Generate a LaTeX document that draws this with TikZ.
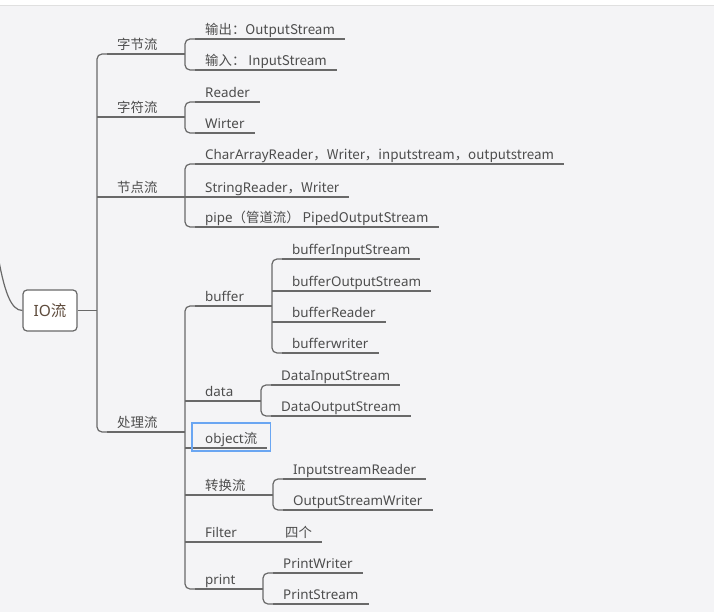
\documentclass[tikz,border=0pt]{standalone}
\usepackage{fontspec}
\setmainfont{Noto Sans}
\newfontfamily\cjk{Noto Sans CJK SC}
\usetikzlibrary{calc}
\definecolor{paper}{HTML}{F4F4F6}
\definecolor{wire}{HTML}{696969}
\definecolor{ink}{HTML}{4D4D4D}
\definecolor{rootink}{HTML}{5E4B3C}
\definecolor{pick}{HTML}{6AA6F2}
% #1 parent anchor, #2 first child, #3 last child, #4 children in between
\newcommand*{\twig}[4]{%
    \draw[link] (#2.south west) -- ([xshift=-10pt]#2.south west) |- (#3.south west);
    \draw[link] (#1) -- ([xshift=-10pt]#2.south west |- #1);
    \foreach \c in {#4} \draw[link] ([xshift=-10pt]\c.south west) -- (\c.south west);}

\begin{document}
\begin{tikzpicture}[x=1pt, y=-1pt,
    link/.style={draw=wire, line width=1.2pt, rounded corners=5pt},
    topic/.style={anchor=south west, inner xsep=10pt, inner ysep=1.5pt, text height=10pt, text depth=3pt, text=ink, font=\fontsize{13.4}{16}\selectfont},
    root/.style={draw=wire, line width=1.2pt, fill=white, rounded corners=4pt, minimum width=54pt, minimum height=41pt, text=rootink, font=\fontsize{15.5}{18}\selectfont}]
    \useasboundingbox (0,0) rectangle (714,612);
    \fill[paper] (0,0) rectangle (714,612);
    \fill[white] (0,0) rectangle (714,5);
    \draw[black!12, line width=1pt] (0,5.5) -- (714,5.5);

    % root
    \node[root] (io) at (50,310.5) {IO\cjk{流}};
    \coordinate (up) at (-3,250);
    \draw[link] (io.west) .. controls (11,310.5) and (4,292) .. (up);

    % first level
    \node[topic] (zj) at (107,54)  {\cjk{字节流}};
    \node[topic] (zf) at (107,117) {\cjk{字符流}};
    \node[topic] (jd) at (107,197) {\cjk{节点流}};
    \node[topic] (cl) at (107,432) {\cjk{处理流}};

    % second level
    \node[topic] (outp) at (195,39)  {\cjk{输出：}OutputStream};
    \node[topic] (inp)  at (195,70)  {\cjk{输入：} InputStream};
    \node[topic] (rd)   at (195,102) {Reader};
    \node[topic] (wt)   at (195,133) {Wirter};
    \node[topic] (car)  at (195,164) {CharArrayReader\cjk{，}Writer\cjk{，}inputstream\cjk{，}outputstream};
    \node[topic] (sr)   at (195,197) {StringReader\cjk{，}Writer};
    \node[topic] (pipe) at (195,227) {pipe\cjk{（管道流）} PipedOutputStream};
    \node[topic] (buf)  at (195,306) {buffer};
    \node[topic] (data) at (195,401) {data};
    \node[topic] (obj)  at (195,448) {object\cjk{流}};
    \node[topic] (zh)   at (195,495) {\cjk{转换流}};
    \node[topic] (flt)  at (195,542) {Filter};
    \node[topic] (prt)  at (195,589) {print};

    % third level
    \node[topic] (bi)   at (282,259) {bufferInputStream};
    \node[topic] (bo)   at (282,291) {bufferOutputStream};
    \node[topic] (br)   at (282,322) {bufferReader};
    \node[topic] (bw)   at (282,353) {bufferwriter};
    \node[topic] (din)  at (271,385) {DataInputStream};
    \node[topic] (dout) at (271,416) {DataOutputStream};
    \node[topic] (isr)  at (283,479) {InputstreamReader};
    \node[topic] (osw)  at (283,510) {OutputStreamWriter};
    \node[topic] (four) at (275,542) {\cjk{四个}};
    \node[topic] (pw)   at (273,573) {PrintWriter};
    \node[topic] (ps)   at (273,604) {PrintStream};

    % underlines
    \foreach \n in {zj,zf,jd,cl,outp,inp,rd,wt,car,sr,pipe,buf,data,obj,zh,flt,prt,bi,bo,br,bw,din,dout,isr,osw,four,pw,ps}
        \draw[link] (\n.south west) -- (\n.south east);

    % branches
    \twig{io.east}{zj}{cl}{zf,jd}
    \twig{zj.south east}{outp}{inp}{}
    \twig{zf.south east}{rd}{wt}{}
    \twig{jd.south east}{car}{pipe}{sr}
    \twig{cl.south east}{buf}{prt}{data,obj,zh,flt}
    \twig{buf.south east}{bi}{bw}{bo,br}
    \twig{data.south east}{din}{dout}{}
    \twig{zh.south east}{isr}{osw}{}
    \draw[link] (flt.south east) -- (four.south west);
    \twig{prt.south east}{pw}{ps}{}

    % selected topic
    \draw[pick, line width=1.6pt] ([shift={(-3,3)}]obj.south west) rectangle ([shift={(3,-25)}]obj.south east);
\end{tikzpicture}
\end{document}
